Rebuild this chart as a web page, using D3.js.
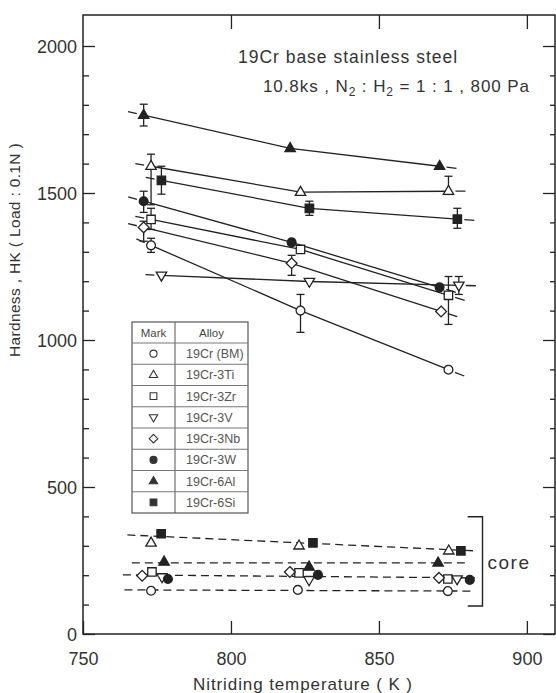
<!DOCTYPE html>
<html>
<head>
<meta charset="utf-8">
<script src="https://cdn.jsdelivr.net/npm/d3@7/dist/d3.min.js"></script>
<style>
  body { margin: 0; background: #fff; }
  svg { display: block; font-family: "Liberation Sans", Arial, sans-serif; }
</style>
</head>
<body>
<svg id="chart" width="556" height="693"></svg>
<script>
// alloys and their marks (legend order)
const alloys = ["19Cr (BM)", "19Cr-3Ti", "19Cr-3Zr", "19Cr-3V", "19Cr-3Nb", "19Cr-3W", "19Cr-6Al", "19Cr-6Si"];
const marks  = ["circle", "triangle", "square", "triangleDown", "diamond", "circleFill", "triangleFill", "squareFill"];

// surface hardness (nitrided layer), points drawn slightly apart around 773/823/873 K
const surfTemp = [[773, 823.5, 873.5], [773, 823.5, 873.5], [773, 823.5, 873.5], [776.5, 826.5, 877],
                  [770.5, 820.5, 871], [770.5, 820.5, 870.5], [770.5, 820, 870.5], [776.5, 826.5, 876.5]];
const surfHK   = [[1322, 1100, 899], [1591, 1503, 1506], [1410, 1308, 1152], [1220, 1199, 1186],
                  [1383, 1261, 1097], [1472, 1332, 1179], [1765, 1652, 1591], [1543, 1448, 1411]];
const surfErr  = [[[1298, 1346], [1026, 1155], null], [[1460, 1632], null, [1495, 1557]],
                  [[1376, 1448], null, [1053, 1216]], [null, null, [1155, 1216]],
                  [[1336, 1404], [1220, 1288], null], [[1434, 1506], null, null],
                  [[1728, 1802], null, null], [[1496, 1591], [1424, 1472], [1380, 1448]]];

// core hardness
const coreTemp = [[773, 822.6, 873.3], [773, 823, 873.6], [773.3, 823, 873.3], [776.7, 826.4, 876.4],
                  [770, 819.9, 870.3], [778.7, 829.4, 880.7], [777.4, 826.4, 870], [776.4, 827.7, 877.7]];
const coreHK   = [[147, 150, 146], [310, 300, 283], [211, 208, 187], [194, 184, 187],
                  [198, 211, 191], [187, 201, 184], [245, 228, 242], [341, 310, 283]];
// dashed guide lines through the core groups
const coreLineTemp = [[765, 882], [766.5, 880], [763.5, 882.5], [764, 882]];
const coreLineHK   = [[337, 283], [242, 242], [201, 191], [150, 146]];
const coreBracketHK = [95, 399];
const coreBracketTemp = [880, 885];

const xTicks = [750, 800, 850, 900];
const yTicks = [0, 500, 1000, 1500, 2000];

const svg = d3.select("#chart");
const pl = 83, pr = 555, pt = 15, pb = 634;
const x = d3.scaleLinear().domain([750, 909.5]).range([pl, pr]);
const y = d3.scaleLinear().domain([0, 2000]).range([pb, 46]);
const ink = "#222";

// stretch a text to the width it has in the scan
function fit(t, w) {
  const n = t.text().length;
  const len = t.node().getComputedTextLength();
  t.attr("letter-spacing", ((w - len) / n).toFixed(2));
  return t;
}

// frame
svg.append("rect").attr("x", pl).attr("y", pt).attr("width", pr - pl).attr("height", pb - pt)
  .attr("fill", "none").attr("stroke", ink).attr("stroke-width", 1.5);

// axes (ticks pointing inward)
const minor = d3.range(0, 2001, 100).filter(v => v % 500 != 0);
const yAx = svg.append("g").attr("transform", `translate(${pl},0)`)
  .call(d3.axisLeft(y).tickValues(yTicks).tickSize(-12).tickPadding(6).tickFormat(d3.format("d")));
svg.append("g").attr("transform", `translate(${pl},0)`)
  .call(d3.axisLeft(y).tickValues(minor).tickSize(-6).tickFormat(""));
svg.append("g").attr("transform", `translate(${pr},0)`)
  .call(d3.axisRight(y).tickValues(yTicks).tickSize(-12).tickFormat(""));
svg.append("g").attr("transform", `translate(${pr},0)`)
  .call(d3.axisRight(y).tickValues(minor).tickSize(-5).tickFormat(""));
const xAx = svg.append("g").attr("transform", `translate(0,${pb})`)
  .call(d3.axisBottom(x).tickValues(xTicks).tickSize(-13).tickPadding(18).tickFormat(d3.format("d")));
svg.append("g").attr("transform", `translate(0,${pt})`)
  .call(d3.axisTop(x).tickValues(xTicks.slice(1)).tickSize(-14).tickFormat(""));
svg.selectAll(".domain").remove();
svg.selectAll(".tick line").attr("stroke", ink).attr("stroke-width", 1.3);
svg.selectAll(".tick text").attr("font-size", 18).attr("fill", "#333").attr("font-family", "Liberation Sans, Arial, sans-serif");
yAx.selectAll(".tick text").attr("dy", "0.36em");

// axis titles
fit(svg.append("text").attr("x", 303).attr("y", 690).attr("text-anchor", "middle")
  .attr("font-size", 17).attr("fill", "#333").text("Nitriding temperature ( K )"), 220);
fit(svg.append("text").attr("transform", "translate(20,250) rotate(-90)").attr("text-anchor", "middle")
  .attr("font-size", 15.5).attr("fill", "#333").text("Hardness , HK ( Load : 0.1N )"), 214);

// condition note
fit(svg.append("text").attr("x", 238).attr("y", 63).attr("font-size", 17.5).attr("fill", "#333")
  .text("19Cr base stainless steel"), 220);
const cond = svg.append("text").attr("x", 263).attr("y", 92).attr("font-size", 17).attr("fill", "#333");
cond.append("tspan").text("10.8ks , N");
cond.append("tspan").attr("font-size", 12).attr("dy", 4).text("2");
cond.append("tspan").attr("dy", -4).text(" : H");
cond.append("tspan").attr("font-size", 12).attr("dy", 4).text("2");
cond.append("tspan").attr("dy", -4).text(" = 1 : 1 , 800 Pa");
fit(cond, 267);

// marker shapes
function markPath(kind, s) {
  s = s || 1;
  if (kind.startsWith("circle")) {
    const r = 4.4 * s;
    return `M${-r},0A${r},${r} 0 1,0 ${r},0A${r},${r} 0 1,0 ${-r},0Z`;
  }
  if (kind == "triangle" || kind == "triangleFill")
    return `M0,${-5.8 * s}L${5.2 * s},${3.2 * s}L${-5.2 * s},${3.2 * s}Z`;
  if (kind == "triangleDown")
    return `M0,${5.8 * s}L${5.2 * s},${-3.2 * s}L${-5.2 * s},${-3.2 * s}Z`;
  if (kind.startsWith("square")) {
    const h = 4.2 * s;
    return `M${-h},${-h}H${h}V${h}H${-h}Z`;
  }
  const d = 5.4 * s;
  return `M0,${-d}L${d},0L0,${d}L${-d},0Z`;
}
const filled = k => k.endsWith("Fill");

// core guide lines (dashed)
coreLineTemp.forEach(function(t, i) {
  svg.append("line").attr("x1", x(t[0])).attr("x2", x(t[1]))
    .attr("y1", y(coreLineHK[i][0])).attr("y2", y(coreLineHK[i][1]))
    .attr("stroke", ink).attr("stroke-width", 1.3).attr("stroke-dasharray", "8,5");
});

// core bracket + label
svg.append("path")
  .attr("d", `M${x(coreBracketTemp[0])},${y(coreBracketHK[1])}H${x(coreBracketTemp[1])}V${y(coreBracketHK[0])}H${x(coreBracketTemp[0])}`)
  .attr("fill", "none").attr("stroke", ink).attr("stroke-width", 1.4);
fit(svg.append("text").attr("x", x(coreBracketTemp[1]) + 5).attr("y", y((coreBracketHK[0] + coreBracketHK[1]) / 2) + 8)
  .attr("font-size", 19).attr("fill", "#333").text("core"), 43);

// surface lines: solid between points, short dash beyond each end
alloys.forEach(function(a, i) {
  const pts = surfTemp[i].map((t, j) => [x(t), y(surfHK[i][j])]);
  svg.append("path").attr("d", d3.line()(pts)).attr("fill", "none").attr("stroke", ink).attr("stroke-width", 1.3);
  function ext(p, q, a0, a1) {
    const dx = q[0] - p[0], dy = q[1] - p[1], L = Math.hypot(dx, dy);
    svg.append("line").attr("x1", p[0] + dx / L * a0).attr("y1", p[1] + dy / L * a0)
      .attr("x2", p[0] + dx / L * a1).attr("y2", p[1] + dy / L * a1)
      .attr("stroke", ink).attr("stroke-width", 1.3);
  }
  ext(pts[0], pts[1], -16, -7);
  ext(pts[2], pts[1], -17, -7);
});

// error bars
alloys.forEach(function(a, i) {
  surfErr[i].forEach(function(e, j) {
    if (!e) return;
    const cx = x(surfTemp[i][j]);
    const g = svg.append("g").attr("stroke", ink).attr("stroke-width", 1.3);
    g.append("line").attr("x1", cx).attr("x2", cx).attr("y1", y(e[0])).attr("y2", y(e[1]));
    g.append("line").attr("x1", cx - 4).attr("x2", cx + 4).attr("y1", y(e[0])).attr("y2", y(e[0]));
    g.append("line").attr("x1", cx - 4).attr("x2", cx + 4).attr("y1", y(e[1])).attr("y2", y(e[1]));
  });
});

// markers: surface and core
alloys.forEach(function(a, i) {
  const k = marks[i];
  [[surfTemp[i], surfHK[i]], [coreTemp[i], coreHK[i]]].forEach(function(set) {
    svg.append("g").selectAll("path").data(set[0]).enter().append("path")
      .attr("transform", (t, j) => `translate(${x(t)},${y(set[1][j])})`)
      .attr("d", markPath(k))
      .attr("fill", filled(k) ? ink : "#fff").attr("stroke", ink).attr("stroke-width", 1.3);
  });
});

// legend table
const lg = { x0: 132, x1: 175, x2: 248, y0: 322, head: 21, row: 21.25 };
const tb = svg.append("g");
const tbBottom = lg.y0 + lg.head + lg.row * alloys.length;
tb.append("rect").attr("x", lg.x0).attr("y", lg.y0).attr("width", lg.x2 - lg.x0).attr("height", tbBottom - lg.y0)
  .attr("fill", "#fff").attr("stroke", "#555").attr("stroke-width", 1.2);
tb.append("line").attr("x1", lg.x1).attr("x2", lg.x1).attr("y1", lg.y0).attr("y2", tbBottom).attr("stroke", "#555");
d3.range(alloys.length).forEach(function(i) {
  const yy = lg.y0 + lg.head + lg.row * i;
  tb.append("line").attr("x1", lg.x0).attr("x2", lg.x2).attr("y1", yy).attr("y2", yy).attr("stroke", "#777");
});
tb.append("text").attr("x", (lg.x0 + lg.x1) / 2).attr("y", lg.y0 + 15).attr("text-anchor", "middle")
  .attr("font-size", 11.5).attr("fill", "#444").text("Mark");
tb.append("text").attr("x", (lg.x1 + lg.x2) / 2).attr("y", lg.y0 + 15).attr("text-anchor", "middle")
  .attr("font-size", 11.5).attr("fill", "#444").text("Alloy");
alloys.forEach(function(a, i) {
  const cy = lg.y0 + lg.head + lg.row * (i + 0.5);
  tb.append("path").attr("transform", `translate(${(lg.x0 + lg.x1) / 2},${cy})`).attr("d", markPath(marks[i], 0.8))
    .attr("fill", filled(marks[i]) ? "#333" : "#fff").attr("stroke", "#333").attr("stroke-width", 1.1);
  tb.append("text").attr("x", 186).attr("y", cy + 4.5).attr("font-size", 12.5).attr("fill", "#555").text(a);
});
</script>
</body>
</html>
